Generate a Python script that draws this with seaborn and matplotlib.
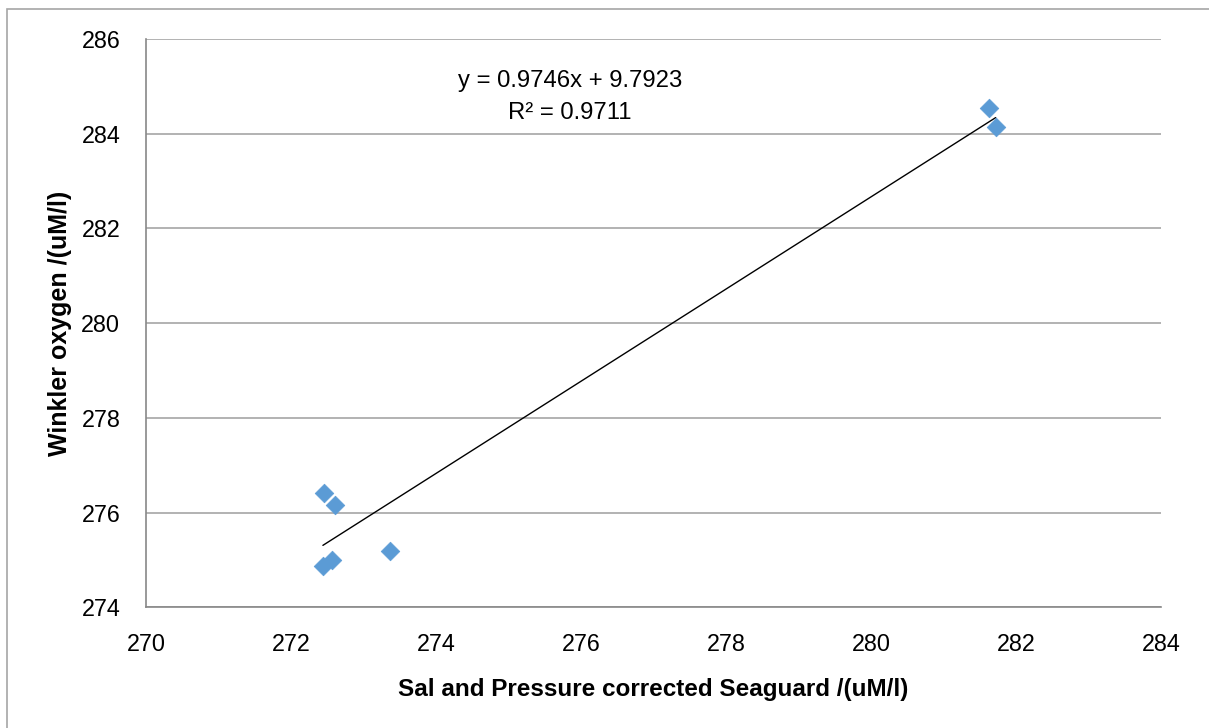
import numpy as np
import pandas as pd
import matplotlib
matplotlib.use("Agg")
import matplotlib.pyplot as plt
import seaborn as sns
from matplotlib.patches import Rectangle

seaguard = [272.46, 272.60, 273.37, 272.57, 272.44, 281.63, 281.72]
winkler = [276.42, 276.17, 275.19, 275.00, 274.87, 284.54, 284.15]
x_ticks = [270, 272, 274, 276, 278, 280, 282, 284]
y_ticks = [274, 276, 278, 280, 282, 284, 286]
eq_text = "y = 0.9746x + 9.7923"
r2_text = "R² = 0.9711"
x_label = "Sal and Pressure corrected Seaguard /(uM/l)"
y_label = "Winkler oxygen /(uM/l)"

df = pd.DataFrame({"x": seaguard, "y": winkler})

sns.set_theme(style="white")
plt.rcParams['font.family'] = ['Liberation Sans', 'DejaVu Sans']

W, H = 1209, 728
fig = plt.figure(figsize=(W / 100, H / 100), dpi=100)
ax = fig.add_axes([146 / W, 1 - 607.3 / H, (1161 - 146) / W, (607.3 - 39) / H])

sns.scatterplot(data=df, x="x", y="y", ax=ax, marker="D", s=90,
                color="#5B9BD5", edgecolor="#5B9BD5", linewidth=0.5, zorder=3)

# linear trendline
slope, intercept = np.polyfit(df["x"], df["y"], 1)
xs = np.array([df["x"].min(), df["x"].max()])
ax.plot(xs, slope * xs + intercept, color="black", linewidth=1.0, zorder=2)

ax.set_xlim(x_ticks[0], x_ticks[-1])
ax.set_ylim(y_ticks[0], y_ticks[-1])
ax.set_xticks(x_ticks)
ax.set_yticks(y_ticks)
ax.tick_params(axis="both", labelsize=16.8, colors="black", direction="out",
               length=6, color="#888888", pad=12.5)
ax.tick_params(axis="both", labelcolor="black")
ax.grid(axis="y", color="#A6A6A6", linewidth=1.2)
ax.grid(axis="x", visible=False)
for s in ["top", "right"]:
    ax.spines[s].set_visible(False)
for s in ["left", "bottom"]:
    ax.spines[s].set_color("#888888")
    ax.spines[s].set_linewidth(1.2)

ax.set_xlabel(x_label, fontsize=17.5, fontweight="bold", labelpad=16, color="black")
ax.set_ylabel(y_label, fontsize=18, fontweight="bold", labelpad=7, color="black")

fig.text(570 / W, 1 - 81 / H, eq_text, ha="center", va="center", fontsize=17.2, color="black")
fig.text(570 / W, 1 - 113 / H, r2_text, ha="center", va="center", fontsize=17.2, color="black")

# chart area frame (top and left visible)
fig.add_artist(Rectangle((7 / W, -0.05), 1.2, 1 - 9 / H + 0.05, transform=fig.transFigure,
                         fill=False, edgecolor="#A6A6A6", linewidth=1.2))

fig.savefig("out.png", dpi=100, facecolor="white")
